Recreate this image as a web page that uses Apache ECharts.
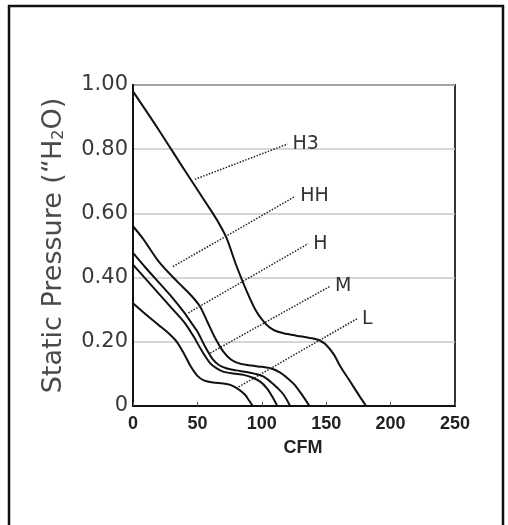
<!DOCTYPE html>
<html><head><meta charset="utf-8">
<script src="https://cdn.jsdelivr.net/npm/echarts@6/dist/echarts.min.js"></script>
<style>html,body{margin:0;padding:0;background:#fff}#c{width:508px;height:525px}</style>
</head><body><div id="c"></div>
<script>
const xTicks = [0, 50, 100, 150, 200, 250];
const yTicks = [0, 0.2, 0.4, 0.6, 0.8, 1.0];
const curveNames = ['H3', 'HH', 'H', 'M', 'L'];
const H3 = [[0,0.98],[20,0.86],[40,0.735],[62,0.6],[68,0.56],[73,0.52],[80,0.44],[88,0.36],[95,0.3],[101,0.265],[106,0.245],[112,0.232],[120,0.224],[130,0.217],[140,0.21],[145,0.204],[150,0.19],[156,0.16],[161,0.123],[168,0.08],[176,0.03],[181,0]];
const HH = [[0,0.56],[8,0.52],[20,0.45],[35,0.385],[45,0.345],[52,0.31],[58,0.26],[64,0.21],[70,0.17],[76,0.145],[83,0.132],[92,0.126],[100,0.122],[108,0.116],[114,0.105],[119,0.09],[125,0.068],[131,0.036],[137,0]];
const H = [[0,0.477],[10,0.43],[20,0.385],[30,0.34],[40,0.29],[46,0.255],[50,0.232],[56,0.185],[62,0.145],[67,0.127],[73,0.117],[80,0.111],[88,0.106],[95,0.1],[101,0.092],[107,0.075],[112,0.057],[117,0.035],[122,0]];
const M = [[0,0.44],[10,0.395],[20,0.35],[30,0.305],[40,0.26],[47,0.217],[53,0.175],[60,0.133],[65,0.117],[70,0.107],[78,0.101],[86,0.097],[93,0.088],[99,0.075],[104,0.055],[108,0.03],[112,0]];
const L = [[0,0.32],[10,0.285],[20,0.252],[28,0.225],[34,0.2],[40,0.16],[45,0.122],[50,0.094],[55,0.08],[62,0.073],[70,0.07],[76,0.065],[82,0.052],[87,0.035],[90,0.018],[93,0]];
const leaders = {
  H3: [[48,0.706],[120,0.816]],
  HH: [[31,0.434],[126,0.653]],
  H:  [[43,0.29],[136,0.506]],
  M:  [[60,0.165],[153,0.373]],
  L:  [[80,0.055],[174,0.272]]
};
const curves = {H3, HH, H, M, L};
const geo = '"DejaVu Sans", Lato, sans-serif';
const bold = '"Liberation Sans", Arial, sans-serif';

const chart = echarts.init(document.getElementById('c'));
const series = [];
curveNames.forEach(n => {
  series.push({type:'line', name:n, data:curves[n], smooth:0.3, showSymbol:false, symbol:'none',
    lineStyle:{color:'#111', width:2}, silent:true, z:3});
});
curveNames.forEach(n => {
  series.push({type:'line', name:n+'-lead', data:leaders[n], symbol:'none', showSymbol:false, silent:true, z:4,
    lineStyle:{color:'#222', width:1.5, type:[1.5,1.5]},
    endLabel:{show:true, formatter:n, distance:5, color:'#333', fontSize:19, fontFamily:geo}
  });
});
chart.setOption({
  animation:false,
  grid:{left:133, right:53, top:85, bottom:119, show:true, borderColor:'#333', borderWidth:2, backgroundColor:'transparent'},
  xAxis:{type:'value', min:0, max:250, interval:50,
    axisLine:{lineStyle:{color:'#111', width:2}},
    axisTick:{show:true, inside:true, length:4, lineStyle:{color:'#555'}},
    splitLine:{show:false},
    axisLabel:{color:'#222', fontSize:18, fontWeight:'bold', fontFamily:bold, margin:9},
    name:'CFM', nameLocation:'middle', nameGap:33,
    nameTextStyle:{color:'#222', fontSize:18, fontWeight:'bold', fontFamily:bold, padding:[0,0,0,18]}
  },
  yAxis:{type:'value', min:0, max:1, interval:0.2,
    axisLine:{show:true, lineStyle:{color:'#111', width:2}},
    axisTick:{show:false},
    splitLine:{show:true, lineStyle:{color:'#c8c8c8', width:1.5}},
    axisLabel:{color:'#3a3a3a', fontSize:21, fontFamily:geo, margin:5,
      formatter: v => v === 0 ? '0' : v.toFixed(2)},
    name:'Static Pressure (“H{sub|2}O)', nameLocation:'middle', nameGap:66,
    nameTextStyle:{color:'#4a4a4a', fontSize:27, fontFamily:geo,
      rich:{sub:{fontSize:16, color:'#4a4a4a', fontFamily:geo, verticalAlign:'bottom', padding:[10,0,0,0]}}}
  },
  graphic:[{type:'polyline', silent:true, shape:{points:[[9,525],[9,6],[503,6],[503,525]]}, style:{stroke:'#111', lineWidth:2.5, fill:null}}],
  series
});
</script></body></html>
